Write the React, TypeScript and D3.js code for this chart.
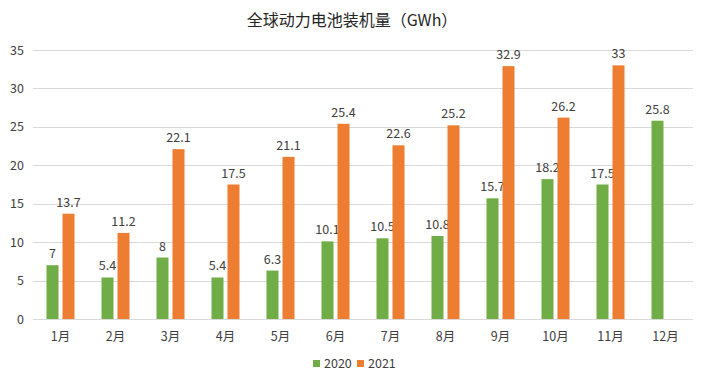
import { useEffect, useRef } from 'react';
import * as d3 from 'd3';

const months = ['1月', '2月', '3月', '4月', '5月', '6月', '7月', '8月', '9月', '10月', '11月', '12月'];
const values2020 = [7, 5.4, 8, 5.4, 6.3, 10.1, 10.5, 10.8, 15.7, 18.2, 17.5, 25.8];
const values2021: (number | null)[] = [13.7, 11.2, 22.1, 17.5, 21.1, 25.4, 22.6, 25.2, 32.9, 26.2, 33, null];
const yTicks = [0, 5, 10, 15, 20, 25, 30, 35];

const seriesNames = ['2020', '2021'];
const colors = ['#70AD47', '#ED7D31'];

export default function App() {
  const svgRef = useRef<SVGSVGElement>(null);

  useEffect(() => {
    if (!svgRef.current) return;
    const svg = d3.select(svgRef.current);
    svg.selectAll('*').remove();

    const width = 708;
    const height = 384;
    const margin = { top: 50, right: 15, bottom: 65, left: 33 };
    const font = '"Noto Sans CJK SC", "Noto Sans", sans-serif';
    const textColor = '#404040';

    svg.append('rect')
      .attr('x', 0.5).attr('y', 0.5)
      .attr('width', width - 1).attr('height', height - 1)
      .attr('fill', '#fff').attr('stroke', '#d9d9d9');

    const x = d3.scaleBand()
      .domain(months)
      .range([margin.left, width - margin.right]);

    const y = d3.scaleLinear()
      .domain([0, 35])
      .range([height - margin.bottom, margin.top]);

    const barW = 12;
    const gap = 4;

    // gridlines
    svg.append('g')
      .selectAll('line')
      .data(yTicks)
      .join('line')
      .attr('x1', margin.left)
      .attr('x2', width - margin.right)
      .attr('y1', d => Math.round(y(d)) + 0.5)
      .attr('y2', d => Math.round(y(d)) + 0.5)
      .attr('stroke', '#d9d9d9');

    // y labels
    svg.append('g')
      .attr('font-family', font)
      .attr('font-size', 12.5)
      .attr('fill', textColor)
      .attr('text-anchor', 'end')
      .selectAll('text')
      .data(yTicks)
      .join('text')
      .attr('x', 24)
      .attr('y', d => y(d) + 4.5)
      .text(d => d);

    const groups = [values2020, values2021];
    groups.forEach((vals, si) => {
      const offset = si === 0 ? -gap / 2 - barW : gap / 2;
      const data = months.map((m, i) => ({ m, v: vals[i] })).filter(d => d.v != null) as { m: string; v: number }[];
      svg.append('g')
        .selectAll('rect')
        .data(data)
        .join('rect')
        .attr('x', d => (x(d.m) as number) + x.bandwidth() / 2 + offset)
        .attr('y', d => y(d.v))
        .attr('width', barW)
        .attr('height', d => y(0) - y(d.v))
        .attr('fill', colors[si]);

      svg.append('g')
        .attr('font-family', font)
        .attr('font-size', 12.5)
        .attr('fill', textColor)
        .attr('text-anchor', 'middle')
        .selectAll('text')
        .data(data)
        .join('text')
        .attr('x', d => (x(d.m) as number) + x.bandwidth() / 2 + offset + barW / 2)
        .attr('y', d => y(d.v) - 7)
        .text(d => d.v);
    });

    // x labels
    svg.append('g')
      .attr('font-family', font)
      .attr('font-size', 12.5)
      .attr('fill', textColor)
      .attr('text-anchor', 'middle')
      .selectAll('text')
      .data(months)
      .join('text')
      .attr('x', d => (x(d) as number) + x.bandwidth() / 2)
      .attr('y', y(0) + 22)
      .text(d => d);

    // title
    svg.append('text')
      .attr('x', width / 2 - 2)
      .attr('y', 26)
      .attr('text-anchor', 'middle')
      .attr('font-family', font)
      .attr('font-size', 16)
      .attr('fill', '#262626')
      .text('全球动力电池装机量（GWh）');

    // legend
    const legend = svg.append('g').attr('font-family', font).attr('font-size', 12.5).attr('fill', textColor);
    const legendX = [313, 357];
    seriesNames.forEach((name, i) => {
      legend.append('rect')
        .attr('x', legendX[i]).attr('y', 360)
        .attr('width', 7).attr('height', 7)
        .attr('fill', colors[i]);
      legend.append('text')
        .attr('x', legendX[i] + 11)
        .attr('y', 368)
        .text(name);
    });
  }, []);

  return (
    <div style={{ margin: -8 }}>
      <svg ref={svgRef} width={708} height={384} style={{ display: 'block' }} />
    </div>
  );
}
